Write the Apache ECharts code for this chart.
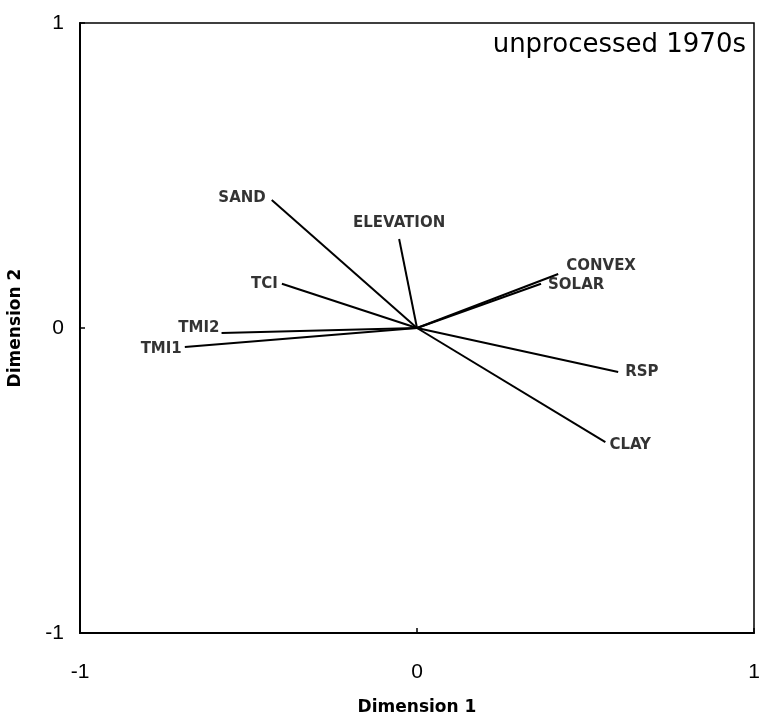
<!DOCTYPE html>
<html>
<head>
<meta charset="utf-8">
<script src="https://cdn.jsdelivr.net/npm/echarts@6/dist/echarts.min.js"></script>
<style>
  html, body { margin: 0; padding: 0; background: #fff; }
  #chart { width: 768px; height: 719px; }
</style>
</head>
<body>
<div id="chart"></div>
<script>
// Biplot loadings: variable names and their coordinates on the first two dimensions
const variables = ['SAND', 'ELEVATION', 'TCI', 'TMI2', 'TMI1', 'CONVEX', 'SOLAR', 'RSP', 'CLAY'];
const dim1 = [-0.431, -0.053, -0.401, -0.580, -0.689, 0.419, 0.368, 0.597, 0.559];
const dim2 = [0.420, 0.292, 0.145, -0.016, -0.062, 0.177, 0.145, -0.144, -0.374];
const tickValues = [-1, 0, 1];

// Where each name sits relative to the tip of its arrow
const labelPlacement = {
  SAND:      { position: 'left',  distance: 6, offset: [0, -2] },
  ELEVATION: { position: 'top',   distance: 8, offset: [0, 0] },
  TCI:       { position: 'left',  distance: 4, offset: [0, 0] },
  TMI2:      { position: 'left',  distance: 2, offset: [0, -5] },
  TMI1:      { position: 'left',  distance: 3, offset: [0, 2] },
  CONVEX:    { position: 'right', distance: 8, offset: [0, -8] },
  SOLAR:     { position: 'right', distance: 7, offset: [0, 1] },
  RSP:       { position: 'right', distance: 7, offset: [0, 0] },
  CLAY:      { position: 'right', distance: 4, offset: [0, 3] }
};

const labelFont = { fontFamily: 'DejaVu Sans', fontSize: 15, fontWeight: 'bold', color: '#000' };

const vectorSeries = variables.map((name, i) => ({
  type: 'line',
  name: name,
  data: [[0, 0], [dim1[i], dim2[i]]],
  symbol: 'none',
  lineStyle: { color: '#000', width: 2 },
  silent: true,
  animation: false,
  z: 3
}));

const tipSeries = {
  type: 'scatter',
  symbolSize: 0,
  animation: false,
  data: variables.map((name, i) => ({
    value: [dim1[i], dim2[i]],
    name: name,
    label: Object.assign({ show: true, formatter: name }, labelPlacement[name], labelFont)
  })),
  z: 4
};

const chart = echarts.init(document.getElementById('chart'), null, { renderer: 'canvas' });

const axisCommon = {
  min: -1,
  max: 1,
  interval: 1,
  splitLine: { show: false },
  axisLine: { show: true, onZero: false, lineStyle: { color: '#000', width: 2 } },
  axisTick: { show: true, inside: true, length: 5, lineStyle: { color: '#000', width: 1.5 } },
  axisLabel: {
    fontFamily: 'Liberation Sans',
    fontSize: 21,
    color: '#000',
    formatter: v => tickValues.indexOf(v) >= 0 ? String(v) : ''
  },
  nameLocation: 'middle',
  nameTextStyle: { fontFamily: 'DejaVu Sans', fontSize: 17, fontWeight: 'bold', color: '#000' }
};

chart.setOption({
  backgroundColor: '#fff',
  animation: false,
  title: {
    text: 'unprocessed 1970s',
    right: 17,
    top: 27,
    textStyle: { fontFamily: 'DejaVu Sans', fontSize: 26, fontWeight: 'normal', color: '#000' }
  },
  grid: {
    left: 80, right: 14, top: 23, bottom: 86,
    containLabel: false,
    outerBoundsMode: 'none',
    show: true, borderColor: '#000', borderWidth: 1.5, backgroundColor: 'transparent'
  },
  xAxis: Object.assign({}, axisCommon, {
    type: 'value',
    name: 'Dimension 1',
    nameGap: 66,
    axisLabel: Object.assign({}, axisCommon.axisLabel, { margin: 29 })
  }),
  yAxis: Object.assign({}, axisCommon, {
    type: 'value',
    name: 'Dimension 2',
    nameGap: 56,
    axisLabel: Object.assign({}, axisCommon.axisLabel, { margin: 16 })
  }),
  series: vectorSeries.concat([tipSeries])
});
</script>
</body>
</html>
